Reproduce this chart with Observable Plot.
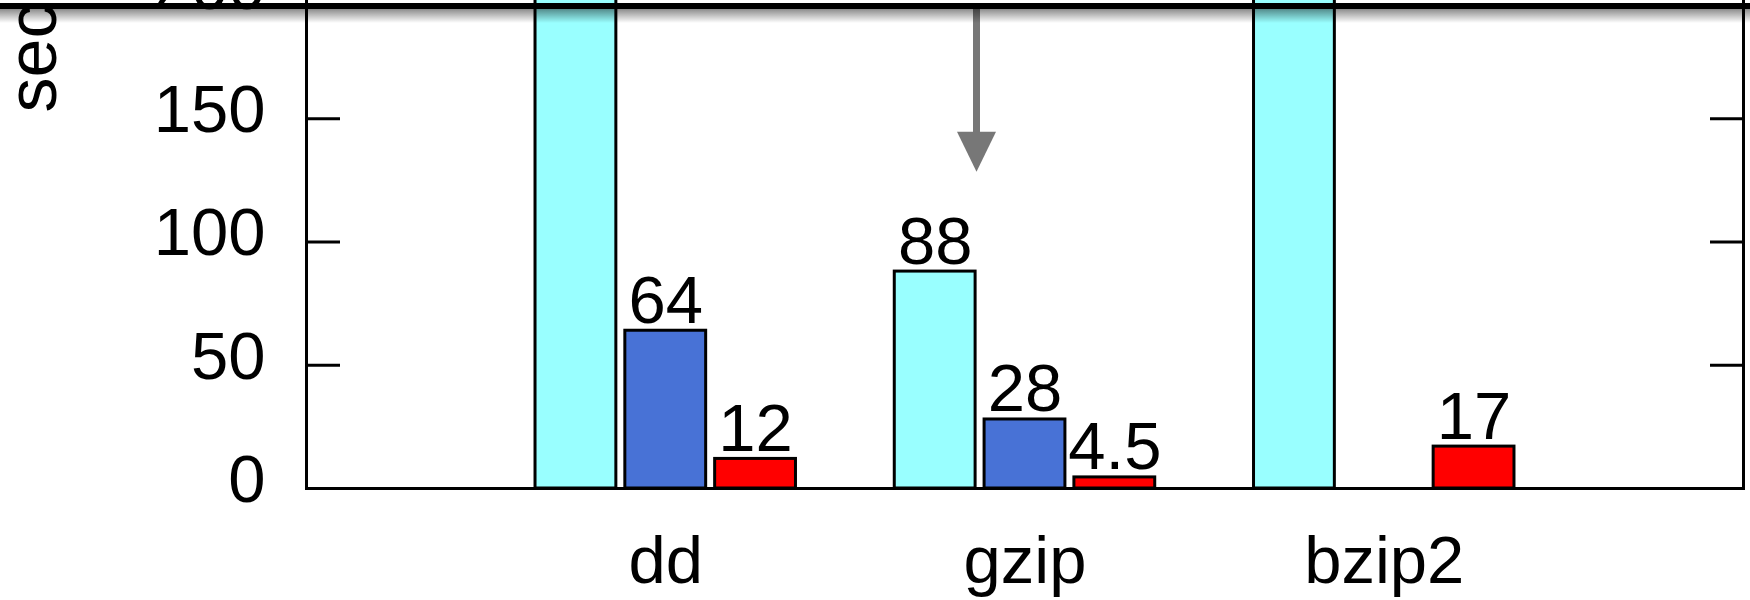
<!DOCTYPE html>
<html><head><meta charset="utf-8">
<script src="https://cdn.jsdelivr.net/npm/d3@7"></script>
<script src="https://cdn.jsdelivr.net/npm/@observablehq/plot@0.6"></script>
<style>
html,body{margin:0;padding:0;background:#fff;overflow:hidden;width:1750px;height:600px;}
#wrap{position:relative;width:1750px;height:600px;overflow:hidden;background:#fff;}
#chart{position:absolute;left:0;top:-100px;}
#topbar{position:absolute;left:0;top:3px;width:1750px;height:6px;background:#000;}
#shade{position:absolute;left:0;top:9px;width:1750px;height:14px;background:linear-gradient(rgba(0,0,0,0.45),rgba(0,0,0,0));}
</style></head><body>
<div id="wrap"><div id="chart"></div><div id="topbar"></div><div id="shade"></div></div>
<script>
// ---- data ----
const categories = ["dd", "gzip", "bzip2"];
const seriesNames = ["series 1", "series 2", "series 3"];
const series1 = [230, 88, 260];   // bars above 200 are clipped in the reference
const series2 = [64, 28, null];
const series3 = [12, 4.5, 17];
const yTicks = [0, 50, 100, 150, 200];
const yLabel = "sec";
const arrowData = [{x: 0.865, from: 196, shaftEnd: 143, to: 128.5}];

// ---- styles ----
const colors = ["#99ffff", "#4872d6", "#ff0000"];
const pitch = 0.25, half = 0.1125;
const font = "'Liberation Sans', Arial, Helvetica, sans-serif";

const rows = categories.flatMap((c, i) =>
  [series1, series2, series3].map((vals, s) => ({cat: c, i, s, series: seriesNames[s], value: vals[i]}))
).filter(d => d.value != null);

const arrowHead = {
  draw(context) {
    context.moveTo(0, 0);
    context.lineTo(-19.5, -40);
    context.lineTo(19.5, -40);
    context.closePath();
  }
};

const chart = Plot.plot({
  width: 1750,
  height: 700,
  marginTop: 95,
  marginBottom: 112,
  marginLeft: 306,
  marginRight: 7,
  style: {fontFamily: font, fontSize: "67px", background: "transparent", color: "black"},
  x: {domain: [-1, 3], axis: null},
  y: {domain: [0, 200], axis: null},
  color: {domain: seriesNames, range: colors},
  marks: [
    Plot.rectY(rows, {
      x1: d => d.i + (d.s - 1) * pitch - half,
      x2: d => d.i + (d.s - 1) * pitch + half,
      y1: 0, y2: "value",
      fill: "series", stroke: "black", strokeWidth: 3, clip: true
    }),
    Plot.text(rows.filter(d => d.value <= 200), {
      x: d => d.i + (d.s - 1) * pitch,
      y: "value",
      text: d => String(d.value),
      lineAnchor: "bottom",
      dy: -8,
      fill: "black"
    }),
    Plot.ruleX(arrowData, {x: "x", y1: "from", y2: "shaftEnd", stroke: "#777", strokeWidth: 7}),
    Plot.dot(arrowData, {x: "x", y: "to", symbol: arrowHead, fill: "#777", stroke: null, r: 3}),
    Plot.axisY(yTicks, {anchor: "left", tickSize: -34, tickFormat: () => "", strokeWidth: 3, label: null}),
    Plot.axisY(yTicks, {anchor: "right", tickSize: -34, tickFormat: () => "", strokeWidth: 3, label: null}),
    Plot.axisY(yTicks, {anchor: "left", tickSize: 0, tickPadding: 41, dy: -8, fill: "black", label: null}),
    Plot.axisX([0, 1, 2], {tickSize: 0, tickPadding: 47, tickFormat: i => categories[i], fill: "black", label: null}),
    Plot.text([yLabel], {frameAnchor: "top-left", dx: -251, dy: 117, rotate: -90, textAnchor: "start", lineAnchor: "bottom", fill: "black", fontSize: 70}),
    Plot.frame({stroke: "black", strokeWidth: 3})
  ]
});
document.getElementById("chart").appendChild(chart);
</script>
</body></html>
